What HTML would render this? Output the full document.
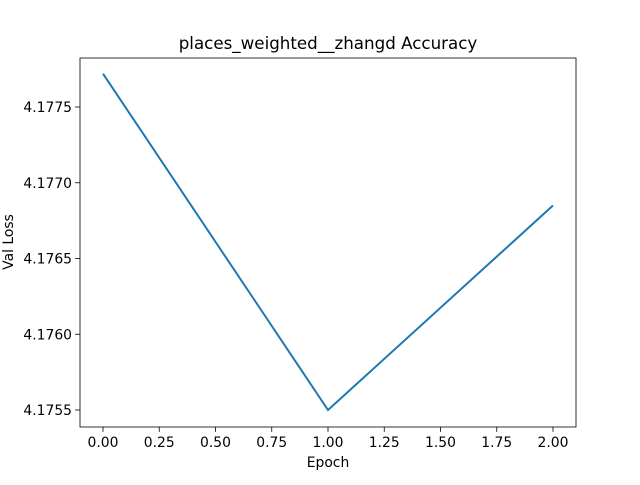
<!DOCTYPE html>
<html><head><meta charset="utf-8"><style>
body{margin:0;background:#fff;}
svg text{font-family:"DejaVu Sans","Liberation Sans",sans-serif;fill:#000;}
</style></head><body>
<svg width="640" height="480" xmlns="http://www.w3.org/2000/svg">
<rect width="640" height="480" fill="#fff"/>
<g id="plot"></g>
</svg>
<script>
const epochs=[0,1,2];
const valLoss=[4.17772,4.17550,4.17685];
const xTicks=[0,0.25,0.5,0.75,1.0,1.25,1.5,1.75,2.0];
const xTickLabels=["0.00","0.25","0.50","0.75","1.00","1.25","1.50","1.75","2.00"];
const yTicks=[4.1755,4.1760,4.1765,4.1770,4.1775];
const yTickLabels=["4.1755","4.1760","4.1765","4.1770","4.1775"];
const L=80,R=576,T=58,B=427;
const x=v=>103+(v-0)*(553-103)/2;
const y=v=>410-(v-4.1755)*(410-107)/0.0020;
const ns="http://www.w3.org/2000/svg";
const g=document.getElementById('plot');
function mk(t,a,txt){const e=document.createElementNS(ns,t);for(const k in a)e.setAttribute(k,a[k]);if(txt!==undefined)e.textContent=txt;g.appendChild(e);return e;}
let fr=mk('rect',{x:L,y:T,width:R-L,height:B-T,fill:'none',stroke:'#000','stroke-width':0.8});


xTicks.forEach((v,i)=>{
 let l=mk('line',{x1:x(v),x2:x(v),y1:B,y2:B+4.9,stroke:'#000','stroke-width':0.8});
 
 
 let t=mk('text',{x:x(v),y:B+20,'text-anchor':'middle','font-size':13.9},xTickLabels[i]);
 
 
});
yTicks.forEach((v,i)=>{
 let l=mk('line',{x1:L-4.9,x2:L,y1:y(v),y2:y(v),stroke:'#000','stroke-width':0.8});
 
 
 let t=mk('text',{x:L-8,y:y(v)+5,'text-anchor':'end','font-size':13.9},yTickLabels[i]);
 
 
});
let p=mk('polyline',{points:epochs.map((e,i)=>x(e)+','+y(valLoss[i])).join(' '),fill:'none',stroke:'#1f77b4','stroke-width':2});


let tt=mk('text',{x:328,y:49,'text-anchor':'middle','font-size':16.7},'places_weighted__zhangd Accuracy');


let xl=mk('text',{x:328,y:467,'text-anchor':'middle','font-size':13.9},'Epoch');


let yl=mk('text',{x:13,y:242,'text-anchor':'middle','font-size':13.9,transform:'rotate(-90 13 242)'},'Val Loss');


</script>
</body></html>
